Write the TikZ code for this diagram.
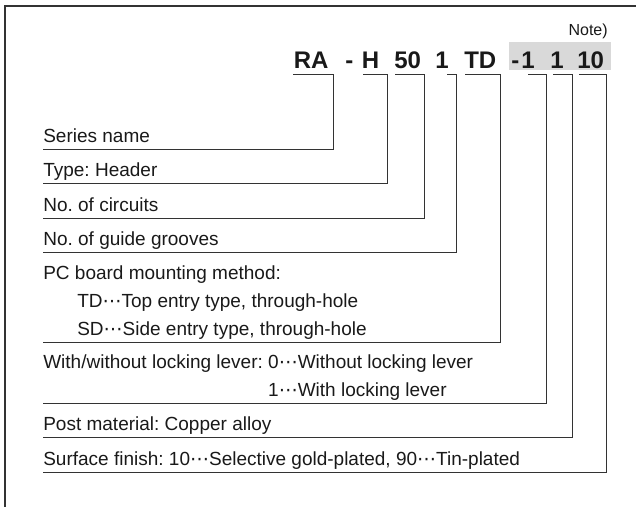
\documentclass[tikz,border=0pt]{standalone}
\usepackage{fontspec}
\setmainfont{Liberation Sans}
\newfontfamily\dotsfont{DejaVu Sans}
\newcommand{\tdots}{{\dotsfont ⋯}}
\frenchspacing
\begin{document}
\begin{tikzpicture}[x=1pt, y=-1pt, semithick]
    \tikzset{code/.style={font=\fontsize{24}{24}\selectfont\bfseries, text=black!90, inner sep=0pt, anchor=base west},
             label/.style={font=\fontsize{19}{28}\selectfont, text=black!90, align=left, inner xsep=0pt, inner ysep=6.5pt, text depth=0pt, anchor=south west},
             bracket/.style={draw=black!80, line width=1pt}}
    \useasboundingbox (0,0) rectangle (636,507);
    \draw[line width=1.5pt, black!80] (636,6) -- (5,6) -- (5,507);
    \fill[black!15] (509,42) rectangle (611,70);
    % model code
    \node[code] (c-ra) at (293.5,68) {RA};
    \node[code] (c-dash) at (345,68) {-};
    \node[code] (c-h) at (361.5,68) {H};
    \node[code] (c-50) at (394,68) {50};
    \node[code] (c-1) at (435,68) {1};
    \node[code] (c-td) at (464,68) {TD};
    \node[code] (c-dash2) at (511,68) {-};
    \node[code] (c-lever) at (521,68) {1};
    \node[code] (c-post) at (550,68) {1};
    \node[code] (c-finish) at (577,68) {10};
    \node[font=\fontsize{16}{16}\selectfont, text=black!90, inner sep=0pt, anchor=base east] (note) at (608,35) {Note)};
    % descriptions
    \node[label] (series) at (43,149) {Series name};
    \node[label] (type) at (43,183.5) {Type: Header};
    \node[label] (circuits) at (43,218) {No. of circuits};
    \node[label] (grooves) at (43,252.5) {No. of guide grooves};
    \node[label] (mounting) at (43,342) {PC board mounting method:\\
        \hspace*{34pt}TD\tdots Top entry type, through-hole\\
        \hspace*{34pt}SD\tdots Side entry type, through-hole};
    \node[label] (lever) at (43,403) {With/without locking lever: 0\tdots Without locking lever\\
        \phantom{With/without locking lever: }1\tdots With locking lever};
    \node[label] (material) at (43,437) {Post material: Copper alloy};
    \node[label] (finish) at (43,472) {Surface finish: 10\tdots Selective gold-plated, 90\tdots Tin-plated};
    % brackets
    \foreach \lab/\xa/\xb in {series/293/333, type/363/387, circuits/395/424, grooves/447/456,
                              mounting/465/500, lever/528/546, material/553/572, finish/579/606} {
        \coordinate (\lab-in) at (\xa,74);
        \coordinate (\lab-top) at (\xb,74);
        \draw[bracket] (\lab-in) -- (\lab-top) -- (\lab-top |- \lab.south) -- (\lab.south west);
    }
\end{tikzpicture}
\end{document}
